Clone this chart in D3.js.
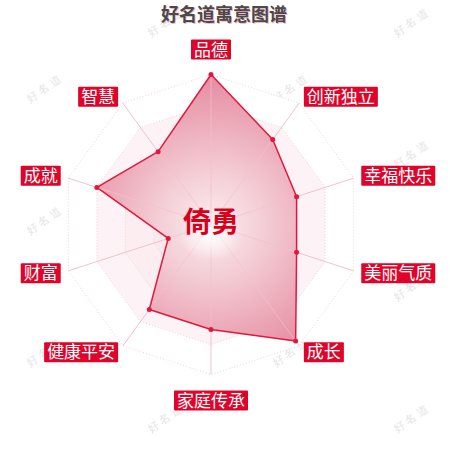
<!DOCTYPE html>
<html>
<head>
<meta charset="utf-8">
<script src="https://cdn.jsdelivr.net/npm/d3@7"></script>
<style>
  html, body { margin: 0; padding: 0; background: #fff; }
  svg { display: block; font-family: "Noto Sans CJK SC", "Noto Sans", sans-serif; }
</style>
</head>
<body>
<svg id="radar" width="450" height="450"></svg>
<script>
// chart data
var indicators = ["品德", "创新独立", "幸福快乐", "美丽气质", "成长", "家庭传承", "健康平安", "财富", "成就", "智慧"];
var values = [100, 70, 60, 60, 96, 70, 70, 30, 80, 60];
var maxValue = 100;
var gridLevels = [20, 40, 60, 80, 100];
var chartTitle = "好名道寓意图谱";
var nameText = "倚勇";
var watermark = "好名道";

window.onload = function () {
    drawRadar();
};

function drawRadar() {
    var svg = d3.select("#radar"),
        width = +svg.attr("width"),
        cx = 211, cy = 224.5, R = 150;

    var r = d3.scaleLinear().domain([0, maxValue]).range([0, R]);
    var angle = d3.scalePoint()
        .domain(indicators)
        .range([0, 2 * Math.PI * (indicators.length - 1) / indicators.length]);

    function pt(name, v) {
        var a = angle(name);
        return [cx + r(v) * Math.sin(a), cy - r(v) * Math.cos(a)];
    }

    var defs = svg.append("defs");
    var grad = defs.append("radialGradient")
        .attr("id", "areaGrad")
        .attr("gradientUnits", "userSpaceOnUse")
        .attr("cx", cx).attr("cy", cy).attr("r", R);
    grad.append("stop").attr("offset", "0").attr("stop-color", "#fbeef1");
    grad.append("stop").attr("offset", "0.35").attr("stop-color", "#f3cbd3");
    grad.append("stop").attr("offset", "1").attr("stop-color", "#e38198");

    var glow = defs.append("radialGradient").attr("id", "glow");
    glow.append("stop").attr("offset", "0").attr("stop-color", "#fff").attr("stop-opacity", 0.9);
    glow.append("stop").attr("offset", "1").attr("stop-color", "#fff").attr("stop-opacity", 0);

    // watermark tiles
    var wm = svg.append("g")
        .attr("font-family", "'DejaVu Serif', serif")
        .attr("font-size", 11)
        .attr("fill", "#e4e4e4");
    for (var row = 0; row < 7; row++) {
        for (var col = 0; col < 2; col++) {
            var wx = (row % 2 === 0 ? 166 : 45) + col * 246;
            var wy = 22 + row * 66;
            wm.append("text")
                .attr("transform", "translate(" + wx + "," + wy + ") rotate(-35)")
                .attr("text-anchor", "middle")
                .attr("dy", "0.35em")
                .attr("letter-spacing", 3)
                .text(watermark);
        }
    }

    var line = d3.line();
    function ring(v) {
        return line(indicators.map(function (d) { return pt(d, v); })) + "Z";
    }

    // split areas
    var ringFill = ["#f9e3e8", "#fbe9ed", "#fcedf1", "#fdf2f5", "#ffffff"];
    var g = svg.append("g");
    gridLevels.slice().reverse().forEach(function (lv, i) {
        g.append("path")
            .attr("d", ring(lv))
            .attr("fill", ringFill[gridLevels.length - 1 - i]);
    });
    gridLevels.forEach(function (lv) {
        g.append("path")
            .attr("d", ring(lv))
            .attr("fill", "none")
            .attr("stroke", "#f0d2d8")
            .attr("stroke-width", 1)
            .attr("stroke-dasharray", "1,2");
    });

    // axis lines
    g.selectAll(".axis")
        .data(indicators)
        .enter().append("line")
        .attr("class", "axis")
        .attr("x1", cx).attr("y1", cy)
        .attr("x2", function (d) { return pt(d, maxValue)[0]; })
        .attr("y2", function (d) { return pt(d, maxValue)[1]; })
        .attr("stroke", "#f0c3cc")
        .attr("stroke-width", 1);

    // data polygon
    var pts = indicators.map(function (d, i) { return pt(d, values[i]); });
    g.append("path")
        .attr("d", line(pts) + "Z")
        .attr("fill", "url(#areaGrad)")
        .attr("fill-opacity", 0.92)
        .attr("stroke", "#e3173e")
        .attr("stroke-width", 1.5)
        .attr("stroke-linejoin", "round");

    // axis lines over the area, faint
    g.selectAll(".axis2")
        .data(indicators)
        .enter().append("line")
        .attr("x1", cx).attr("y1", cy)
        .attr("x2", function (d, i) { return pt(d, values[i])[0]; })
        .attr("y2", function (d, i) { return pt(d, values[i])[1]; })
        .attr("stroke", "#f4c3cd")
        .attr("stroke-opacity", 0.7)
        .attr("stroke-width", 1);

    g.append("ellipse")
        .attr("cx", cx).attr("cy", cy + 12)
        .attr("rx", 32).attr("ry", 24)
        .attr("fill", "url(#glow)");

    g.selectAll(".dot")
        .data(pts)
        .enter().append("circle")
        .attr("cx", function (d) { return d[0]; })
        .attr("cy", function (d) { return d[1]; })
        .attr("r", 2.5)
        .attr("fill", "#e3173e");

    // indicator labels
    var lab = svg.append("g").attr("font-size", 17);
    indicators.forEach(function (name) {
        var a = angle(name),
            s = Math.sin(a), c = Math.cos(a),
            p = pt(name, maxValue * 158 / 150);
        var t = lab.append("text")
            .attr("fill", "#fff")
            .text(name);
        var bb = t.node().getBBox();
        var padX = 3, h = 20, w = bb.width + padX * 2;
        var bx, by;
        if (Math.abs(s) < 0.01) bx = p[0] - w / 2;
        else if (s > 0) bx = p[0];
        else bx = p[0] - w;
        if (Math.abs(s) < 0.01 && c > 0) by = p[1] - h - 7;
        else if (Math.abs(s) < 0.01) by = p[1] + 8;
        else by = p[1] - h / 2;
        lab.insert("rect", "text")
            .attr("x", bx).attr("y", by)
            .attr("width", w).attr("height", h)
            .attr("rx", 1)
            .attr("fill", "#df0429");
        t.attr("x", bx + padX)
            .attr("y", by + h / 2)
            .attr("dy", "0.36em");
    });

    // center name
    svg.append("text")
        .attr("x", cx).attr("y", cy - 3)
        .attr("text-anchor", "middle")
        .attr("dy", "0.36em")
        .attr("font-size", 28)
        .attr("font-weight", "bold")
        .attr("fill", "#d9001b")
        .text(nameText);

    // title
    svg.append("text")
        .attr("x", width / 2 - 1).attr("y", 20.5)
        .attr("text-anchor", "middle")
        .attr("font-size", 18)
        .attr("font-weight", "bold")
        .attr("fill", "#4a4a4a")
        .attr("style", "text-shadow: 1px 1px 0 #f2b8c4")
        .text(chartTitle);
}
</script>
</body>
</html>
